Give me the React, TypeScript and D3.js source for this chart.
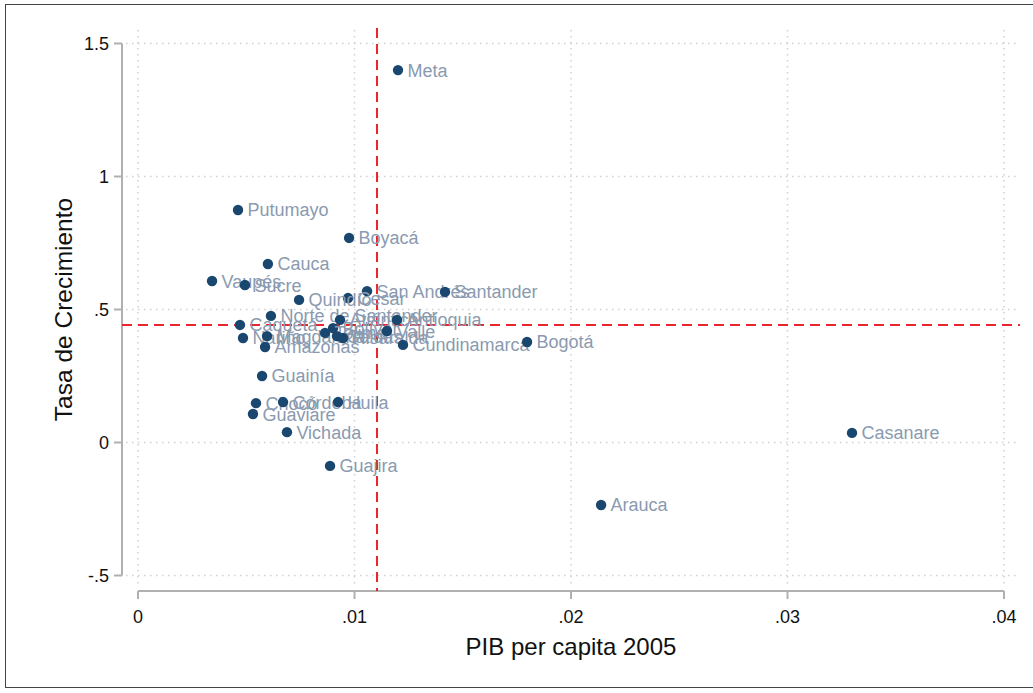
import React from 'react';
import * as d3 from 'd3';

// departamentos, PIB per capita 2005 y tasa de crecimiento
const names = [
    'Meta', 'Putumayo', 'Boyacá', 'Cauca', 'Vaupés', 'Sucre', 'San Andrés', 'Santander',
    'Cesar', 'Quindío', 'Norte de Santander', 'Caquetá', 'Nariño', 'Magdalena', 'Amazonas',
    'Atlántico', 'Bolívar', 'Tolima', 'Caldas', 'Risaralda', 'Antioquia', 'Valle',
    'Cundinamarca', 'Bogotá', 'Guainía', 'Chocó', 'Córdoba', 'Huila', 'Guaviare', 'Vichada',
    'Casanare', 'Guajira', 'Arauca',
];
const pib = [
    0.01201, 0.00462, 0.00975, 0.006, 0.00342, 0.00494, 0.01058, 0.01418,
    0.0097, 0.00744, 0.00614, 0.00471, 0.00485, 0.00596, 0.00587,
    0.00933, 0.00901, 0.00864, 0.00919, 0.00947, 0.01196, 0.0115,
    0.01224, 0.01797, 0.00573, 0.00545, 0.0067, 0.00924, 0.00531, 0.00688,
    0.03298, 0.00887, 0.02139,
];
const crecimiento = [
    1.4, 0.874, 0.769, 0.671, 0.607, 0.592, 0.569, 0.566,
    0.543, 0.536, 0.476, 0.442, 0.393, 0.4, 0.359,
    0.461, 0.43, 0.412, 0.4, 0.393, 0.461, 0.419,
    0.367, 0.378, 0.25, 0.148, 0.152, 0.152, 0.107, 0.039,
    0.036, -0.088, -0.235,
];
const xTicks = [0, 0.01, 0.02, 0.03, 0.04];
const yTicks = [-0.5, 0, 0.5, 1, 1.5];
const meanX = 0.01104;
const meanY = 0.4417;

const fmt = (v: number) => {
    if (v === 0) return '0';
    return String(v).replace(/^(-?)0\./, '$1.');
};

const App: React.FC = () => {
    const width = 1033;
    const height = 693;
    const x = d3.scaleLinear().domain([0, 0.04]).range([138, 1004]);
    const y = d3.scaleLinear().domain([-0.5, 1.5]).range([575.5, 43.5]);
    const font = 'Arial, "Liberation Sans", sans-serif';
    const axisColor = '#b0b0b0';

    return (
        <svg
            width={width}
            height={height}
            style={{ position: 'absolute', left: 0, top: 0, background: '#fff' }}
            fontFamily={font}
        >
            <rect x={5.5} y={4.5} width={1040} height={683} fill="none" stroke="#444" strokeWidth={1} />

            {/* grid */}
            {xTicks.map((t) => (
                <line key={'gx' + t} x1={x(t)} x2={x(t)} y1={30} y2={585}
                    stroke="#d0d0d0" strokeWidth={1.5} strokeDasharray="1.5,4.5" />
            ))}
            {yTicks.map((t) => (
                <line key={'gy' + t} x1={126} x2={1020} y1={y(t)} y2={y(t)}
                    stroke="#d0d0d0" strokeWidth={1.5} strokeDasharray="1.5,4.5" />
            ))}

            {/* y axis */}
            <line x1={122} x2={122} y1={y(1.5)} y2={y(-0.5)} stroke={axisColor} strokeWidth={2} />
            {yTicks.map((t) => (
                <g key={'ty' + t}>
                    <line x1={114} x2={122} y1={y(t)} y2={y(t)} stroke={axisColor} strokeWidth={2} />
                    <text x={109} y={y(t)} dy="0.35em" textAnchor="end" fontSize={18} fill="#111">
                        {fmt(t)}
                    </text>
                </g>
            ))}

            {/* x axis */}
            <line x1={x(0)} x2={x(0.04)} y1={591} y2={591} stroke={axisColor} strokeWidth={2} />
            {xTicks.map((t) => (
                <g key={'tx' + t}>
                    <line x1={x(t)} x2={x(t)} y1={591} y2={599} stroke={axisColor} strokeWidth={2} />
                    <text x={x(t)} y={617} dy="0.35em" textAnchor="middle" fontSize={18} fill="#111">
                        {fmt(t)}
                    </text>
                </g>
            ))}

            <text x={571} y={655} textAnchor="middle" fontSize={24} fill="#111">
                PIB per capita 2005
            </text>
            <text transform={`translate(72,${y(0.5)}) rotate(-90)`} textAnchor="middle"
                fontSize={24.5} fill="#111">
                Tasa de Crecimiento
            </text>

            {/* reference lines */}
            <line x1={x(meanX)} x2={x(meanX)} y1={28} y2={591} stroke="#e8262d" strokeWidth={2}
                strokeDasharray="10,6" />
            <line x1={122} x2={1020} y1={y(meanY)} y2={y(meanY)} stroke="#e8262d" strokeWidth={2}
                strokeDasharray="10,6" />

            {/* points */}
            {names.map((n, i) => (
                <g key={n}>
                    <circle cx={x(pib[i])} cy={y(crecimiento[i])} r={5.2} fill="#1a476f" />
                    <text x={x(pib[i]) + 9.5} y={y(crecimiento[i])} dy="0.36em" fontSize={18}
                        fill="#8a9ab0">
                        {n}
                    </text>
                </g>
            ))}
        </svg>
    );
};

export default App;
